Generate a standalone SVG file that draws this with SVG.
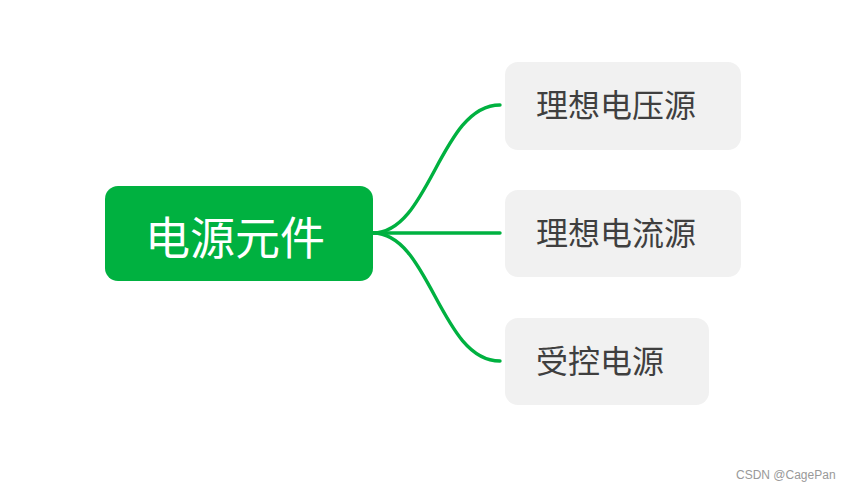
<svg xmlns="http://www.w3.org/2000/svg" width="849" height="491" viewBox="0 0 849 491">
<style>
.sub{fill:#f1f1f1}
.subt{font-family:"Noto Sans CJK SC","Noto Sans",sans-serif;font-size:32px;fill:#3f3f3f}
.conn{fill:none;stroke:#00b140;stroke-width:3.4;stroke-linecap:round}
</style>
<rect width="849" height="491" fill="#ffffff"/>
<g id="connectors">
<path class="conn" d="M373,233 C430,233 440,105 500,105"/>
<path class="conn" d="M373,233 L500,233"/>
<path class="conn" d="M373,233 C430,233 440,361 500,361"/>
</g>
<g id="root">
<rect x="105" y="186" width="268" height="95" rx="13" fill="#00b140"/>
<text x="235" y="255" text-anchor="middle" font-family="Noto Sans CJK SC,Noto Sans,sans-serif" font-size="45" fill="#ffffff">电源元件</text>
</g>
<g id="n1">
<rect class="sub" x="505" y="62" width="236" height="88" rx="13"/>
<text class="subt" x="536" y="117">理想电压源</text>
</g>
<g id="n2">
<rect class="sub" x="505" y="190" width="236" height="87" rx="13"/>
<text class="subt" x="536" y="245">理想电流源</text>
</g>
<g id="n3">
<rect class="sub" x="505" y="318" width="204" height="87" rx="13"/>
<text class="subt" x="536" y="373">受控电源</text>
</g>
<text x="736" y="479" font-family="Liberation Sans,Arial,sans-serif" font-size="12" fill="#999999">CSDN @CagePan</text>
</svg>
